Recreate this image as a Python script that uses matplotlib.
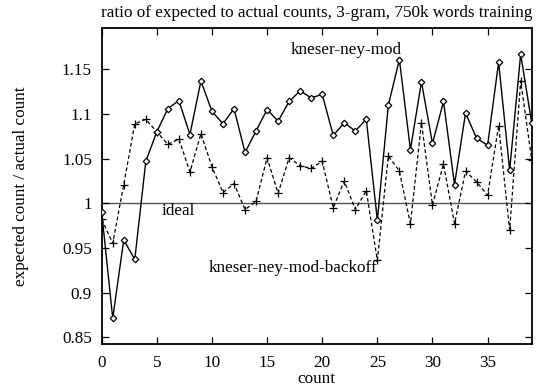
import numpy as np
import matplotlib
matplotlib.use('Agg')
import matplotlib.pyplot as plt

plt.rcParams['font.family'] = ['Liberation Serif', 'DejaVu Serif']

# count values 0..39
counts = list(range(40))

# kneser-ney-mod (solid, diamonds)
kn_mod = [0.990, 0.871, 0.959, 0.937, 1.047, 1.080, 1.106, 1.115, 1.077, 1.137,
          1.103, 1.089, 1.106, 1.057, 1.081, 1.105, 1.092, 1.114, 1.126, 1.118,
          1.122, 1.076, 1.090, 1.081, 1.094, 0.981, 1.110, 1.161, 1.060, 1.136,
          1.067, 1.114, 1.021, 1.101, 1.073, 1.065, 1.158, 1.037, 1.167, 1.090]

# kneser-ney-mod-backoff (dashed, plus)
kn_backoff = [0.982, 0.955, 1.021, 1.089, 1.094, 1.080, 1.066, 1.072, 1.035, 1.078,
              1.041, 1.012, 1.022, 0.993, 1.002, 1.051, 1.011, 1.051, 1.042, 1.039,
              1.047, 0.995, 1.025, 0.993, 1.014, 0.936, 1.053, 1.036, 0.977, 1.090,
              0.998, 1.044, 0.977, 1.036, 1.024, 1.009, 1.087, 0.970, 1.137, 1.049]

xticks = [0, 5, 10, 15, 20, 25, 30, 35]
yticks = [0.85, 0.9, 0.95, 1.0, 1.05, 1.1, 1.15]
ytick_labels = ['0.85', '0.9', '0.95', '1', '1.05', '1.1', '1.15']

fs = 12.3

fig = plt.figure(figsize=(5.37, 3.91), dpi=100)
ax = fig.add_axes([101.7 / 537, 1 - 344.3 / 391, 430 / 537, 316 / 391])

ax.axhline(1.0, color='#555555', lw=1.0, zorder=1)
ax.plot(counts, kn_mod, color='black', lw=1.0, ls='-', marker='D',
        markersize=3.3, markerfacecolor='white', markeredgecolor='black',
        markeredgewidth=0.9, zorder=3)
ax.plot(counts, kn_backoff, color='black', lw=0.9, ls=(0, (3, 2)), marker='+',
        markersize=5.5, markeredgewidth=0.9, zorder=2)

ax.text(17.1, 1.172, 'kneser-ney-mod', fontsize=fs, va='center', ha='left')
ax.text(9.7, 0.928, 'kneser-ney-mod-backoff', fontsize=fs, va='center', ha='left')
ax.text(5.4, 0.991, 'ideal', fontsize=fs, va='center', ha='left')

ax.set_xlim(0, 39)
ax.set_ylim(0.842, 1.196)
ax.set_xticks(xticks)
ax.set_yticks(yticks)
ax.set_yticklabels(ytick_labels)
ax.tick_params(direction='in', length=5, width=0.9, top=True, right=True,
               labelsize=fs, pad=7)
ax.tick_params(axis='x', pad=8)
for s in ax.spines.values():
    s.set_linewidth(1.3)

ax.set_title('ratio of expected to actual counts, 3-gram, 750k words training',
             fontsize=fs, pad=8)
ax.set_xlabel('count', fontsize=fs, labelpad=0)
ax.set_ylabel('expected count / actual count', fontsize=fs, labelpad=24)

fig.savefig('out.png', dpi=100)
